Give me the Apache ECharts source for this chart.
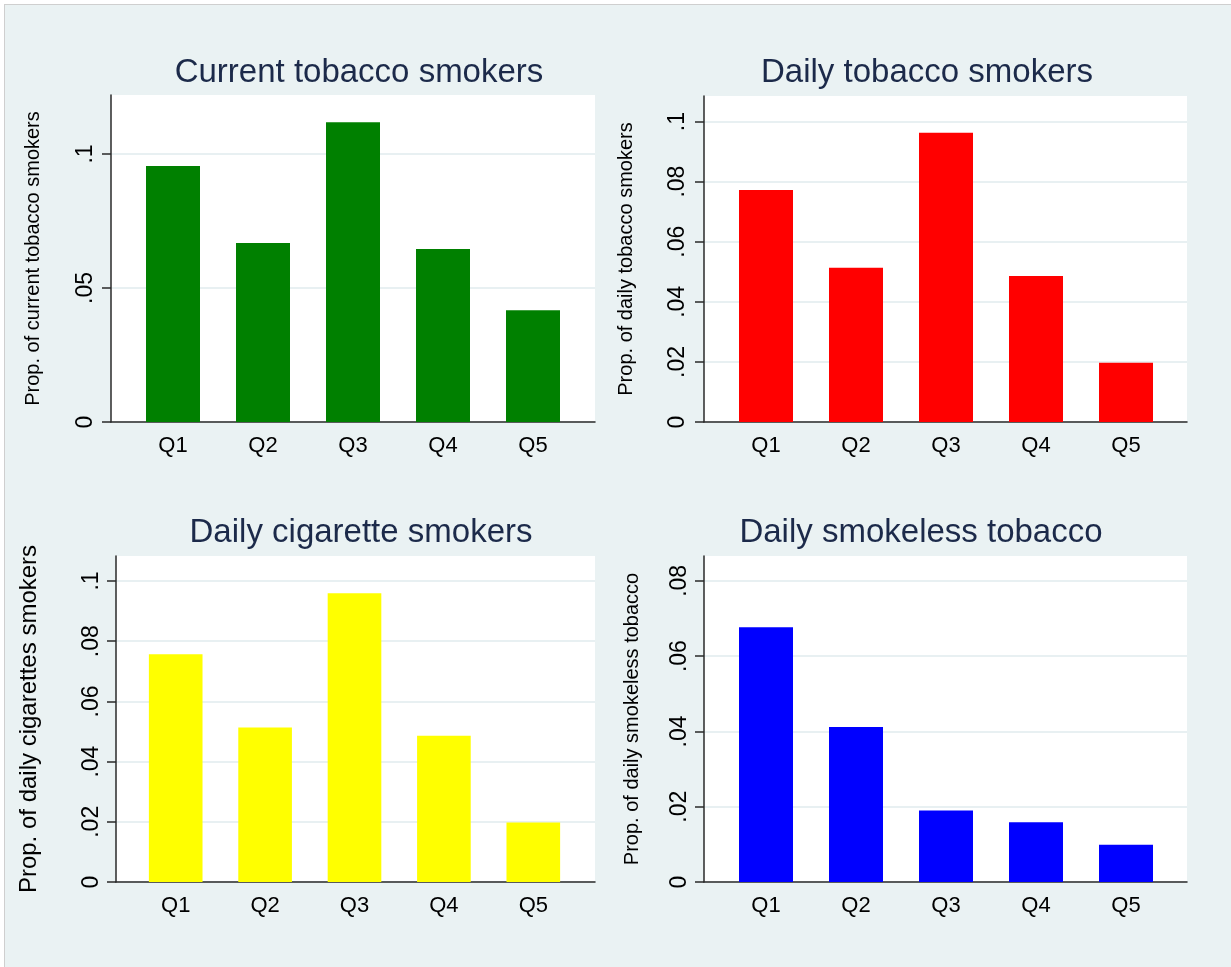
<!DOCTYPE html>
<html>
<head>
<meta charset="utf-8">
<script src="https://cdn.jsdelivr.net/npm/echarts@6/dist/echarts.min.js"></script>
<style>
html,body{margin:0;padding:0;background:#fff;width:1231px;height:967px;overflow:hidden;}
#bg{position:absolute;left:4px;top:4px;width:1227px;height:963px;background:#eaf2f3;border-left:1px solid #cfcfcf;border-top:1px solid #cfcfcf;box-sizing:border-box;}
#chart{position:absolute;left:0;top:0;width:1231px;height:967px;}
</style>
</head>
<body>
<div id="bg"></div>
<div id="chart"></div>
<script>
// ---- data ----
const categories = ['Q1', 'Q2', 'Q3', 'Q4', 'Q5'];
const currentSmokers = [0.0955, 0.0668, 0.1118, 0.0645, 0.0417];
const dailySmokers = [0.0772, 0.0513, 0.0963, 0.0486, 0.0197];
const dailyCigarette = [0.0757, 0.0513, 0.0959, 0.0486, 0.0198];
const dailySmokeless = [0.0677, 0.0412, 0.0190, 0.0159, 0.0099];
const ticksCurrent = [0, 0.05, 0.1];
const ticksDaily = [0, 0.02, 0.04, 0.06, 0.08, 0.1];
const ticksCigarette = [0, 0.02, 0.04, 0.06, 0.08, 0.1];
const ticksSmokeless = [0, 0.02, 0.04, 0.06, 0.08];
const titles = ['Current tobacco smokers', 'Daily tobacco smokers', 'Daily cigarette smokers', 'Daily smokeless tobacco'];
const yNames = ['Prop. of current tobacco smokers', 'Prop. of daily tobacco smokers', 'Prop. of daily cigarettes smokers', 'Prop. of daily smokeless tobacco'];

// ---- layout / style ----
const panels = [
  {data: currentSmokers, ticks: ticksCurrent, max: 0.122, color: '#008000',
   bg: {left: 111, top: 95, width: 484, height: 327}, inner: {left: 128, width: 450},
   title: {x: 354, y: 51}, nameGap: 68, nameSize: 20, labelMargin: 14},
  {data: dailySmokers, ticks: ticksDaily, max: 0.1085, color: '#ff0000',
   bg: {left: 704, top: 96, width: 483, height: 326}, inner: {left: 721, width: 450},
   title: {x: 922, y: 51}, nameGap: 68, nameSize: 20, labelMargin: 15},
  {data: dailyCigarette, ticks: ticksCigarette, max: 0.1083, color: '#ffff00',
   bg: {left: 116, top: 556, width: 479, height: 326}, inner: {left: 131, width: 447},
   title: {x: 356, y: 511}, nameGap: 75, nameSize: 24, labelMargin: 13},
  {data: dailySmokeless, ticks: ticksSmokeless, max: 0.0866, color: '#0000ff',
   bg: {left: 704, top: 556, width: 483, height: 326}, inner: {left: 721, width: 450},
   title: {x: 916, y: 511}, nameGap: 62, nameSize: 20, labelMargin: 13}
];

const FONT = 'Liberation Sans, Arial, sans-serif';
const fmt = v => {
  if (Math.abs(v) < 1e-9) return '0';
  return String(+v.toFixed(4)).replace(/^0\./, '.');
};

const option = {
  animation: false,
  backgroundColor: 'transparent',
  title: [], grid: [], xAxis: [], yAxis: [], series: []
};

panels.forEach((p, i) => {
  option.title.push({
    text: titles[i], left: p.title.x, top: p.title.y, textAlign: 'center',
    textStyle: {fontFamily: FONT, fontSize: 33, fontWeight: 'normal', color: '#1c2a4a'}
  });
  // background grid (plot region with axes)
  option.grid.push({left: p.bg.left, top: p.bg.top, width: p.bg.width, height: p.bg.height,
    show: true, backgroundColor: '#ffffff', borderWidth: 0, containLabel: false});
  // data grid (inset)
  option.grid.push({left: p.inner.left, top: p.bg.top, width: p.inner.width, height: p.bg.height,
    show: false, containLabel: false});
  const g0 = 2 * i, g1 = 2 * i + 1;
  option.xAxis.push({
    type: 'value', gridIndex: g0, min: 0, max: 1,
    axisLine: {show: true, onZero: false, lineStyle: {color: '#2a2a2a', width: 1.5}},
    axisTick: {show: false}, axisLabel: {show: false}, splitLine: {show: false}
  });
  option.xAxis.push({
    type: 'category', gridIndex: g1, data: categories, boundaryGap: true,
    axisLine: {show: false}, axisTick: {show: false}, splitLine: {show: false},
    axisLabel: {margin: 13, fontFamily: FONT, fontSize: 22, color: '#000'}
  });
  option.yAxis.push({
    type: 'value', gridIndex: g0, min: 0, max: p.max,
    name: yNames[i], nameLocation: 'middle', nameGap: p.nameGap,
    nameTextStyle: {fontFamily: FONT, fontSize: p.nameSize, color: '#000'},
    axisLine: {show: true, lineStyle: {color: '#2a2a2a', width: 1.5}},
    axisTick: {show: true, length: 9, customValues: p.ticks, lineStyle: {color: '#2a2a2a', width: 1.5}},
    axisLabel: {show: true, rotate: 90, margin: p.labelMargin, customValues: p.ticks,
      fontFamily: FONT, fontSize: 23, color: '#000', formatter: fmt},
    splitLine: {show: true, lineStyle: {color: '#e8f0f2', width: 2}}
  });
  option.yAxis.push({
    type: 'value', gridIndex: g1, min: 0, max: p.max, show: false,
    splitLine: {show: false}
  });
  option.series.push({
    type: 'bar', xAxisIndex: 2 * i + 1, yAxisIndex: 2 * i + 1,
    data: p.data, barWidth: '60%',
    itemStyle: {color: p.color}, z: 3
  });
});

const chart = echarts.init(document.getElementById('chart'), null, {renderer: 'canvas'});
chart.setOption(option);
</script>
</body>
</html>
